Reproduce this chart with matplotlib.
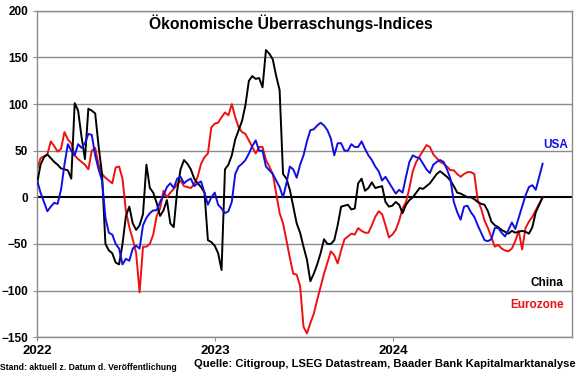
"""
Ökonomische Überraschungs-Indices (Citi Economic Surprise): USA, China, Eurozone.
Wochenwerte, aus der Vorlage abgelesen.
"""

import matplotlib
matplotlib.use('Agg')
import matplotlib.dates as mdates
import matplotlib.pyplot as plt
import pandas as pd

START = '2022-01-01'
N_WEEKS = 149

usa = [
    18, 5, -5, -15, -10, -6, -7, 8, 35, 57, 50, 45, 57, 53, 58, 68, 67, 45, 30, 18,
    -22, -38, -40, -50, -55, -72, -66, -68, -55, -52, -55, -30, -22, -17, -14, -14, -5, 2, 11, 15,
    10, 20, 22, 15, 18, 20, 12, 15, 17, 5, -8, 0, 5, -8, -12, -17, -15, -5, 25, 33,
    36, 40, 47, 55, 61, 50, 50, 33, 29, 25, 18, 11, 0, 15, 33, 30, 21, 35, 45, 60,
    72, 73, 77, 80, 77, 72, 63, 45, 58, 58, 50, 50, 57, 54, 54, 60, 52, 45, 40, 33,
    28, 18, 22, 16, 10, 4, 8, 5, 22, 38, 45, 43, 42, 36, 30, 26, 35, 38, 40, 38,
    30, 20, -5, -16, -24, -10, -9, -16, -21, -30, -38, -46, -47, -45, -33, -33, -38, -42, -35, -27,
    -34, -22, -10, 2, 11, 13, 8, 22, 36,
]

china = [
    15, 35, 43, 46, 42, 38, 35, 31, 30, 29, 20, 101, 93, 65, 41, 95, 93, 90, 55, 25,
    -50, -57, -60, -70, -72, -50, -20, -10, -28, -35, -30, -18, 35, 10, 5, -6, -20, -14, -3, -28,
    -32, 7, 30, 40, 36, 30, 20, 15, 11, 5, -46, -48, -52, -60, -78, 30, 35, 45, 62, 72,
    82, 99, 125, 130, 127, 128, 118, 158, 154, 148, 130, 115, 25, 20, 8, -10, -28, -38, -53, -67,
    -90, -82, -72, -60, -45, -50, -50, -46, -30, -10, -9, -8, -13, -12, 15, 20, 7, 10, 16, 10,
    11, 12, -5, -10, -9, -5, -8, -17, -8, -3, 0, 5, 10, 9, 12, 15, 20, 25, 28, 25,
    22, 18, 12, 5, 4, 2, 0, 0, -2, -5, -7, -8, -15, -26, -30, -32, -35, -37, -39, -36,
    -38, -37, -36, -37, -39, -32, -16, -8, 0,
]

eurozone = [
    30, 42, 44, 46, 60, 55, 49, 52, 70, 62, 58, 45, 41, 38, 35, 30, 50, 53, 35, 25,
    21, 18, 15, 32, 33, 20, -15, -32, -45, -60, -102, -53, -53, -50, -40, -20, -12, 7, 0, 5,
    9, 14, 18, 12, 11, 10, 14, 22, 36, 43, 47, 75, 79, 80, 86, 91, 88, 100, 86, 75,
    70, 68, 61, 54, 47, 54, 54, 40, 33, 25, 4, -17, -28, -46, -65, -82, -83, -95, -139, -146,
    -135, -125, -110, -96, -82, -70, -58, -62, -71, -57, -45, -42, -39, -40, -33, -36, -38, -38, -30, -21,
    -15, -18, -30, -43, -40, -35, -25, -12, -5, 10, 28, 38, 44, 50, 56, 54, 46, 42, 38, 36,
    33, 29, 29, 25, 22, 25, 27, 27, 25, -3, -12, -25, -33, -43, -53, -51, -55, -57, -58, -55,
    -47, -36, -56, -33, -26, -21, -14, -7, 0,
]

y_ticks = [-150, -100, -50, 0, 50, 100, 150, 200]
x_ticks = ['2022', '2023', '2024']

BLUE = '#1010e0'
RED = '#ee1111'
BLACK = '#000000'
GRID = '#8c8c8c'


def main():
    plt.rcParams['font.family'] = ['Liberation Sans', 'DejaVu Sans']
    plt.rcParams['font.weight'] = 'bold'

    dates = pd.date_range(START, periods=N_WEEKS, freq='7D')

    fig = plt.figure(figsize=(5.8, 3.75), dpi=100)
    ax = fig.add_axes([0.064, 0.101, 0.922, 0.870])

    for y in y_ticks:
        if y == 0:
            ax.axhline(y, color='black', lw=1.5, zorder=1)
        else:
            ax.axhline(y, color=GRID, lw=1.0, zorder=0)

    ax.plot(dates, china, color=BLACK, lw=1.4, zorder=3)
    ax.plot(dates, eurozone, color=RED, lw=1.4, zorder=2)
    ax.plot(dates, usa, color=BLUE, lw=1.4, zorder=4)

    ax.set_ylim(-150, 200)
    ax.set_yticks(y_ticks)
    ax.set_xlim(pd.Timestamp('2022-01-01'), pd.Timestamp('2025-01-01'))
    ax.set_xticks([pd.Timestamp(t + '-01-01') for t in x_ticks])
    ax.xaxis.set_major_formatter(mdates.DateFormatter('%Y'))
    ax.tick_params(axis='both', direction='out', length=3, color=GRID, labelsize=8.5)
    ax.tick_params(axis='x', labelsize=9.5, pad=3)
    for s in ax.spines.values():
        s.set_color(GRID)
        s.set_linewidth(1.0)

    ax.text(0.475, 0.99, 'Ökonomische Überraschungs-Indices', transform=ax.transAxes,
            ha='center', va='top', fontsize=11.3, fontweight='bold')

    ax.text(0.993, 0.59, 'USA', transform=ax.transAxes, ha='right', va='center',
            color=BLUE, fontsize=8.5, fontweight='bold')
    ax.text(0.985, 0.165, 'China', transform=ax.transAxes, ha='right', va='center',
            color=BLACK, fontsize=8.5, fontweight='bold')
    ax.text(0.985, 0.097, 'Eurozone', transform=ax.transAxes, ha='right', va='center',
            color=RED, fontsize=8.5, fontweight='bold')

    fig.text(0.0, 0.02, 'Stand: aktuell z. Datum d. Veröffentlichung',
             ha='left', va='center', fontsize=6.25, fontweight='bold')
    fig.text(0.993, 0.03, 'Quelle: Citigroup, LSEG Datastream, Baader Bank Kapitalmarktanalyse',
             ha='right', va='center', fontsize=8.1, fontweight='bold')

    fig.savefig('out.png', dpi=100)


if __name__ == '__main__':
    main()
